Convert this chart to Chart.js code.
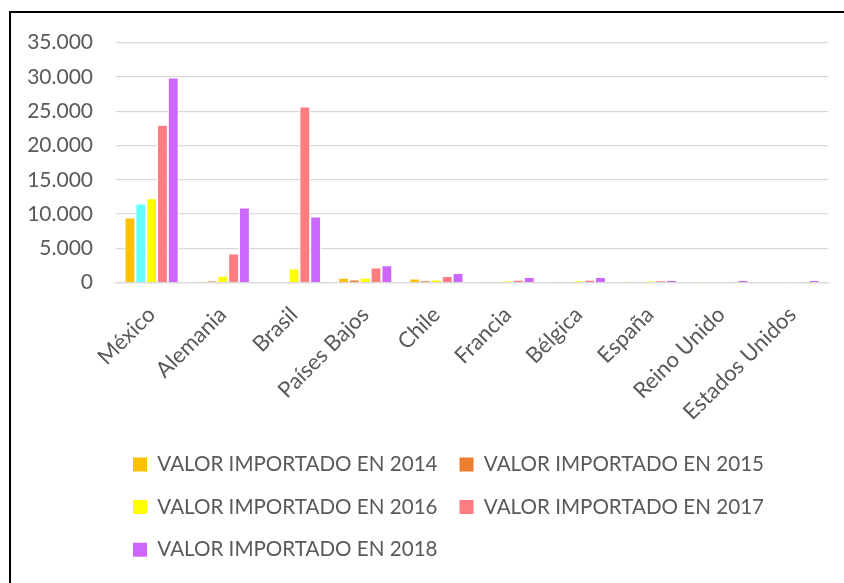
<!DOCTYPE html>
<html>
<head>
<meta charset="utf-8">
<script src="https://cdn.jsdelivr.net/npm/chart.js@4.4.1/dist/chart.umd.min.js"></script>
<style>
  body { margin: 0; background: #fff; overflow: hidden; }
  #frame { position: absolute; left: 9px; top: 11px; width: 870px; height: 620px; border: 2px solid #000; }
  #myChart { position: absolute; left: 0; top: -6px; }
</style>
</head>
<body>
<div id="frame"><canvas id="myChart" width="860" height="563"></canvas></div>
<script>
// countries on the x axis
const paises = ['México', 'Alemania', 'Brasil', 'Países Bajos', 'Chile', 'Francia', 'Bélgica', 'España', 'Reino Unido', 'Estados Unidos'];

// values, one array per year
const valor2014 = [9500, 190, 0, 730, 630, 60, 50, 190, 40, 40];
const valor2015 = [11540, 290, 0, 480, 340, 20, 50, 150, 10, 10];
const valor2016 = [12310, 1020, 2080, 730, 480, 290, 340, 290, 50, 40];
const valor2017 = [23030, 4260, 25690, 2230, 960, 440, 440, 340, 150, 60];
const valor2018 = [29900, 10950, 9650, 2560, 1400, 820, 820, 390, 390, 390];

const etiquetas = ['VALOR IMPORTADO EN 2014', 'VALOR IMPORTADO EN 2015', 'VALOR IMPORTADO EN 2016', 'VALOR IMPORTADO EN 2017', 'VALOR IMPORTADO EN 2018'];

const gris = '#595959';

// 35000 -> "35.000"
function puntos(v) {
    return String(v).replace(/\B(?=(\d{3})+(?!\d))/g, '.');
}

// the 2015 bar of México is cyan in the original, the rest are orange
const colores2015 = paises.map((p, i) => i === 0 ? '#66FFFF' : '#ED7D31');

function serie(label, data, color) {
    return {
        label: label,
        data: data,
        backgroundColor: color,
        borderColor: '#ffffff',
        borderWidth: 1,
        categoryPercentage: 0.76,
        barPercentage: 1
    };
}

const data = {
    labels: paises,
    datasets: [
        serie(etiquetas[0], valor2014, '#FFC000'),
        serie(etiquetas[1], valor2015, colores2015),
        serie(etiquetas[2], valor2016, '#FFFF00'),
        serie(etiquetas[3], valor2017, '#FF7C80'),
        serie(etiquetas[4], valor2018, '#CC66FF')
    ]
};

// Excel puts the legend rows left aligned under the plot, not centred on the canvas:
// slide the legend box so its first swatch sits where the original one is
const moverLeyenda = {
    id: 'moverLeyenda',
    afterLayout: function(chart) {
        const leg = chart.legend;
        const dx = 122 - (leg.left + leg.options.labels.padding);
        leg.left += dx;
        leg.right += dx;
    }
};

var ctx = document.getElementById('myChart');

var myChart = new Chart(ctx, {
    type: 'bar',
    data: data,
    plugins: [moverLeyenda],
    options: {
        responsive: false,
        animation: false,
        layout: { padding: { left: 14, right: 43, top: 17, bottom: 0 } },
        scales: {
            x: {
                grid: { display: false },
                border: { color: '#d9d9d9', width: 1.3 },
                ticks: {
                    color: gris,
                    font: { family: 'Lato', size: 22 },
                    minRotation: 45,
                    maxRotation: 45,
                    padding: 11
                },
                afterFit: function(scale) { scale.height = 149.5; }
            },
            y: {
                min: 0,
                max: 35000,
                border: { display: false },
                grid: { color: '#d9d9d9', lineWidth: 1.3, drawTicks: false },
                ticks: {
                    stepSize: 5000,
                    color: gris,
                    font: { family: 'Lato', size: 21 },
                    padding: 23,
                    callback: function(v) { return puntos(v); }
                },
                afterFit: function(scale) { scale.width = 91; }
            }
        },
        plugins: {
            tooltip: { enabled: false },
            legend: {
                position: 'bottom',
                align: 'start',
                labels: {
                    color: gris,
                    font: { family: 'Lato', size: 20.6 },
                    boxWidth: 14,
                    boxHeight: 14,
                    padding: 22,
                    generateLabels: function(chart) {
                        return chart.data.datasets.map((ds, i) => ({
                            text: ds.label,
                            fillStyle: i === 1 ? '#ED7D31' : ds.backgroundColor,
                            strokeStyle: '#ffffff',
                            lineWidth: 0,
                            fontColor: gris,
                            hidden: false,
                            datasetIndex: i
                        }));
                    }
                }
            }
        }
    }
});
</script>
</body>
</html>
